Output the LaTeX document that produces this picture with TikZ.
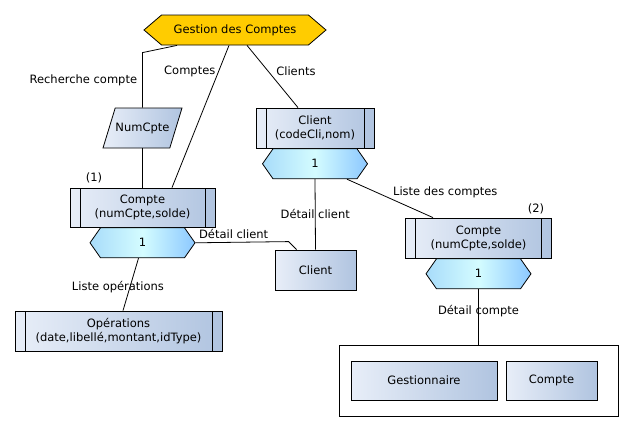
\documentclass[tikz,border=0pt]{standalone}
\usepackage{fontspec}
\setmainfont{DejaVu Sans}
\usepackage{tikz}
\usetikzlibrary{positioning,shapes.geometric,shapes.symbols}

\definecolor{boxL}{RGB}{232,238,248}
\definecolor{boxR}{RGB}{176,196,224}
\definecolor{hexL}{RGB}{168,220,250}
\definecolor{hexM}{RGB}{212,252,255}
\definecolor{hexR}{RGB}{140,200,255}
\definecolor{gold}{RGB}{255,204,0}

\begin{document}
\begin{tikzpicture}[x=1pt, y=-1pt,
			every node/.style={font=\fontsize{11.5}{14}\selectfont},
			box/.style={rectangle, draw=black, line width=0.8pt, left color=boxL, right color=boxR, inner sep=0, align=center},
			entity/.style={box, path picture={
				\draw[line width=0.8pt] ([xshift=10pt]path picture bounding box.north west) -- ([xshift=10pt]path picture bounding box.south west)
					([xshift=-10pt]path picture bounding box.north east) -- ([xshift=-10pt]path picture bounding box.south east);}},
			hexa/.style={signal, signal to=west and east, draw=black, line width=0.8pt, inner sep=0, minimum height=30pt},
			card/.style={hexa, signal pointer angle=110, minimum width=105pt, left color=hexL, right color=hexR, middle color=hexM},
			title/.style={hexa, signal pointer angle=81, fill=gold},
			para/.style={trapezium, trapezium left angle=73, trapezium right angle=107, trapezium stretches body=true, draw=black, line width=0.8pt, left color=boxL, right color=boxR, inner xsep=0, inner ysep=14.5pt},
			lbl/.style={inner sep=1pt},
			link/.style={line width=0.8pt}]

			\useasboundingbox (0,0) rectangle (634,431);

			\node[title, minimum width=182pt] (gc) at (235,30) {Gestion des Comptes};
			\node[para, minimum width=79pt, minimum height=40pt] (num) at (142.5,128) {NumCpte};

			\node[entity, minimum width=145pt, minimum height=39pt] (cpt1) at (142.5,207.5) {Compte\\(numCpte,solde)};
			\node[card, below=0pt of cpt1] (h1) {1};
			\node[entity, minimum width=207pt, minimum height=40pt] (ops) at (118.5,331) {Opérations\\(date,libellé,montant,idType)};

			\node[entity, minimum width=118pt, minimum height=40pt] (cli) at (315,128) {Client\\(codeCli,nom)};
			\node[card, below=0pt of cli] (h2) {1};
			\node[box, minimum width=81pt, minimum height=40pt] (clb) at (315.5,270) {Client};

			\node[entity, minimum width=146pt, minimum height=40pt] (cpt2) at (478.5,238) {Compte\\(numCpte,solde)};
			\node[card, below=0pt of cpt2] (h3) {1};

			\node[draw=black, line width=0.8pt, minimum width=279pt, minimum height=71pt] (grp) at (478.5,380.5) {};
			\node[box, minimum width=146pt, minimum height=39pt] (gest) at (424,380.5) {Gestionnaire};
			\node[box, minimum width=91pt, minimum height=39pt] (cpt3) at (551.5,380.5) {Compte};

			\node[lbl] (n1) at (94,178) {(1)};
			\node[lbl] (n2) at (536,209) {(2)};

			\draw[link] ([xshift=-58pt]gc.south) -- ([yshift=55pt]num.north) -- node[lbl, left=4pt] {Recherche compte} (num.north);
			\draw[link] ([xshift=-6pt]gc.south) -- node[lbl, pos=0.18, left=2pt] {Comptes} ([xshift=29.5pt]cpt1.north);
			\draw[link] ([xshift=12pt]gc.south) -- node[lbl, pos=0.41, right=7pt] {Clients} ([xshift=-17pt]cli.north);
			\draw[link] (num.south) -- (num.south |- cpt1.north);
			\draw[link] (h2.south) -- node[lbl] {Détail client} (clb.north);
			\draw[link] (h1.east) -- node[lbl, pos=0.41, above=2pt] {Détail client} ([xshift=14pt,yshift=8pt]clb.north west) -- ([xshift=22pt]clb.north west);
			\draw[link] ([xshift=32pt]h2.south) -- node[lbl, pos=0.52, anchor=south west] {Liste des comptes} ([xshift=-45.5pt]cpt2.north);
			\draw[link] ([xshift=-4pt]h1.south) -- node[lbl, pos=0.55, xshift=-12pt] {Liste opérations} ([xshift=4.5pt]ops.north);
			\draw[link] (h3.south) -- node[lbl, pos=0.4] {Détail compte} (grp.north);
		\end{tikzpicture}
\end{document}
